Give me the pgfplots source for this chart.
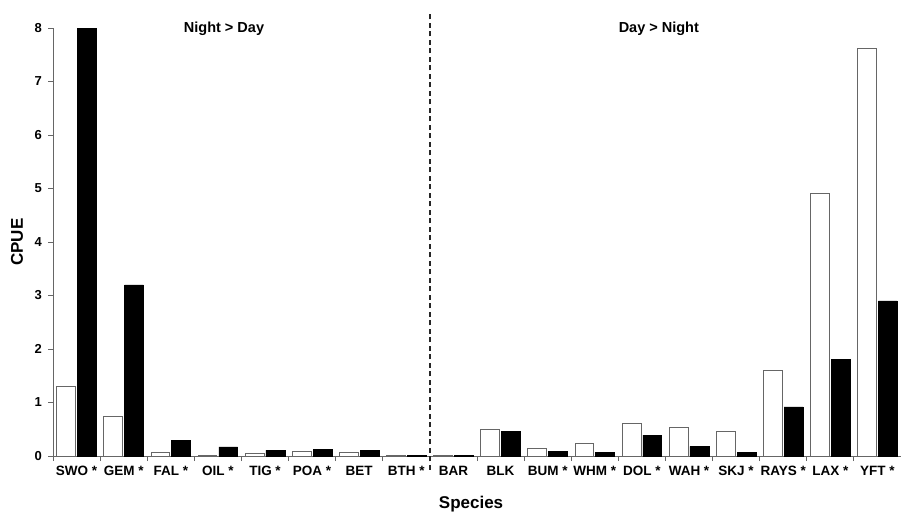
\documentclass[border=0pt]{standalone}
\usepackage{fontspec}
\setmainfont{Liberation Sans}
\usepackage{pgfplots}
\pgfplotsset{compat=1.18}
\usepackage{pgfplotstable}

% Day (white) and night (black) CPUE per species
\pgfplotstableread{
idx species day night
0  SWO  1.30 8.00
1  GEM  0.73 3.20
2  FAL  0.07 0.29
3  OIL  0.01 0.17
4  TIG  0.04 0.11
5  POA  0.08 0.125
6  BET  0.06 0.10
7  BTH  0.01 0.01
8  BAR  0.01 0.01
9  BLK  0.49 0.46
10 BUM  0.15 0.09
11 WHM  0.24 0.07
12 DOL  0.60 0.39
13 WAH  0.53 0.18
14 SKJ  0.45 0.07
15 RAYS 1.59 0.92
16 LAX  4.91 1.81
17 YFT  7.61 2.90
}\cpue

\begin{document}
\begin{tikzpicture}
\begin{axis}[
    at={(0pt,0pt)}, anchor=south west,
    scale only axis,
    width=848pt, height=428pt,
    xmin=-0.5, xmax=17.5,
    ymin=0, ymax=8,
    axis lines*=left,
    axis line style={black!60, line width=0.9pt},
    tick style={black!60, line width=0.9pt},
    tick align=outside,
    xtick={0,...,17},
    xticklabels={SWO *, GEM *, FAL *, OIL *, TIG *, POA *, BET, BTH *, BAR, BLK, BUM *, WHM *, DOL *, WAH *, SKJ *, RAYS *, LAX *, YFT *},
    x tick style={draw=none},
    minor xtick={-0.5,0.5,...,17.5},
    minor x tick style={draw=black!60, line width=0.9pt},
    minor tick length=5pt,
    ytick={0,...,8},
    major tick length=5pt,
    xticklabel style={font=\fontsize{13.5}{16}\selectfont\bfseries, yshift=-2pt},
    yticklabel style={font=\fontsize{13}{15}\selectfont\bfseries, xshift=-2.5pt},
    /pgf/number format/assume math mode=true,
    xlabel={Species},
    ylabel={CPUE},
    xlabel style={font=\fontsize{17}{20}\selectfont\bfseries, at={(axis description cs:0.493,-0.112)}, anchor=center},
    ylabel style={font=\fontsize{17}{20}\selectfont\bfseries, at={(axis description cs:-0.0425,0.5)}, anchor=center, rotate=0},
    ybar,
    bar width=0.4,
    clip=false,
]
\addplot[draw=black!60, fill=white, line width=0.9pt, bar shift=-0.22] table[x=idx, y=day] {\cpue};
\addplot[draw=black, fill=black, line width=0.5pt, bar shift=0.22] table[x=idx, y=night] {\cpue};
\draw[black!85, line width=1.4pt, dash pattern=on 5pt off 3.5pt] (axis cs:7.5,-0.26) -- (axis cs:7.5,8.3);
\node[font=\fontsize{14.5}{17}\selectfont\bfseries] at (axis cs:3.13,7.98) {Night > Day};
\node[font=\fontsize{14.5}{17}\selectfont\bfseries] at (axis cs:12.36,7.98) {Day > Night};
\end{axis}
\pgfresetboundingbox
\useasboundingbox (-53pt,-58pt) rectangle (848pt,456pt);
\end{tikzpicture}
\end{document}
